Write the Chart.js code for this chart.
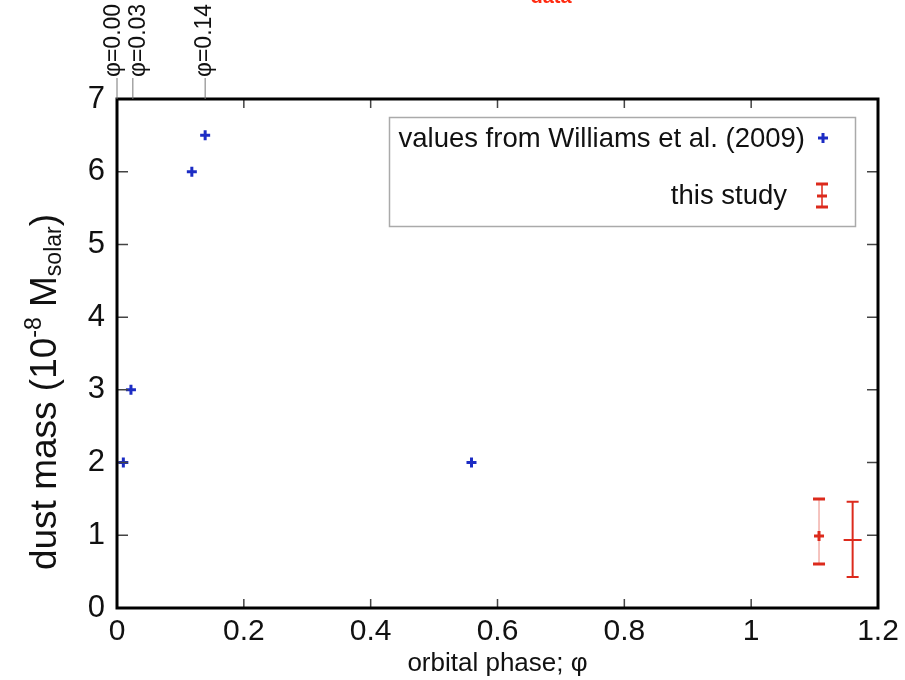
<!DOCTYPE html>
<html>
<head>
<meta charset="utf-8">
<script src="https://cdn.jsdelivr.net/npm/chart.js@4.4.0/dist/chart.umd.min.js"></script>
<style>
  html, body { margin: 0; padding: 0; background: #fff; }
  #wrap { width: 905px; height: 680px; }
</style>
</head>
<body>
<div id="wrap"><canvas id="dust-chart" width="905" height="680"></canvas></div>
<script>
// values from Williams et al. (2009)
const williamsPhase = [0.01, 0.022, 0.118, 0.139, 0.559];
const williamsMass = [2, 3, 6, 6.5, 2];

// this study (with error bars)
const studyPhase = [1.107, 1.160];
const studyMass = [0.99, 0.935];
const studyLow = [0.605, 0.425];
const studyHigh = [1.50, 1.46];

// phase markers on top of the frame
const topPhases = [0.0, 0.025, 0.139];
const topLabels = ['φ=0.00', 'φ=0.03', 'φ=0.14'];

const xTicks = [0, 0.2, 0.4, 0.6, 0.8, 1, 1.2];
const yTicks = [0, 1, 2, 3, 4, 5, 6, 7];

const FONT = '"Liberation Sans", Arial, sans-serif';
const BLUE = '#1c2cc4';
const RED = '#dc2a1c';

function toPoints(xs, ys) {
    return xs.map((x, i) => ({ x: x, y: ys[i] }));
}

// frame, inward ticks, error bars, legend, top labels, y title
const extras = {
    id: 'extras',
    beforeDatasetsDraw(chart) {
        const ctx = chart.ctx;
        const x = chart.scales.x, y = chart.scales.y;
        ctx.save();
        // error bars
        studyPhase.forEach((p, i) => {
            const px = x.getPixelForValue(p);
            const top = y.getPixelForValue(studyHigh[i]);
            const bot = y.getPixelForValue(studyLow[i]);
            const mid = y.getPixelForValue(studyMass[i]);
            ctx.strokeStyle = i === 0 ? '#f2b0aa' : RED;
            ctx.lineWidth = i === 0 ? 1.5 : 2;
            ctx.beginPath();
            ctx.moveTo(px, top); ctx.lineTo(px, bot);
            ctx.stroke();
            ctx.strokeStyle = RED;
            ctx.lineWidth = i === 0 ? 3 : 2;
            ctx.beginPath();
            ctx.moveTo(px - 6, top); ctx.lineTo(px + 6, top);
            ctx.moveTo(px - 6, bot); ctx.lineTo(px + 6, bot);
            if (i === 1) { ctx.moveTo(px - 9, mid); ctx.lineTo(px + 9, mid); }
            ctx.stroke();
        });
        ctx.restore();
    },
    afterDraw(chart) {
        const ctx = chart.ctx;
        const x = chart.scales.x, y = chart.scales.y;
        const a = chart.chartArea;
        ctx.save();

        // inward ticks
        ctx.strokeStyle = '#444';
        ctx.lineWidth = 1.5;
        ctx.beginPath();
        xTicks.slice(1, -1).forEach(v => {
            const px = x.getPixelForValue(v);
            ctx.moveTo(px, a.bottom); ctx.lineTo(px, a.bottom - 9);
            ctx.moveTo(px, a.top); ctx.lineTo(px, a.top + 9);
        });
        yTicks.slice(1, -1).forEach(v => {
            const py = y.getPixelForValue(v);
            ctx.moveTo(a.left, py); ctx.lineTo(a.left + 11, py);
            ctx.moveTo(a.right, py); ctx.lineTo(a.right - 11, py);
        });
        ctx.stroke();

        // frame
        ctx.strokeStyle = '#000';
        ctx.lineWidth = 3;
        ctx.strokeRect(a.left, a.top, a.right - a.left, a.bottom - a.top);

        // top phase markers
        ctx.strokeStyle = '#777';
        ctx.lineWidth = 1;
        ctx.fillStyle = '#111';
        ctx.font = '23px ' + FONT;
        const shift = [-3, 6, 0];
        topPhases.forEach((p, i) => {
            const px = x.getPixelForValue(p);
            ctx.beginPath();
            ctx.moveTo(px, 78); ctx.lineTo(px, a.top);
            ctx.stroke();
            ctx.save();
            ctx.translate(px + shift[i], 77);
            ctx.rotate(-Math.PI / 2);
            ctx.textAlign = 'left';
            ctx.textBaseline = 'middle';
            ctx.fillText(topLabels[i], 0, 0);
            ctx.restore();
        });

        // legend
        ctx.strokeStyle = '#aaa';
        ctx.lineWidth = 1.5;
        ctx.strokeRect(389.5, 117.5, 466, 109);
        ctx.fillStyle = '#111';
        ctx.font = '27.5px ' + FONT;
        ctx.textAlign = 'right';
        ctx.textBaseline = 'middle';
        ctx.fillText('values from Williams et al. (2009)', 805, 139);
        ctx.fillText('this study', 787, 196);
        ctx.strokeStyle = BLUE;
        ctx.lineWidth = 3;
        ctx.beginPath();
        ctx.moveTo(818, 138); ctx.lineTo(828, 138);
        ctx.moveTo(823, 133); ctx.lineTo(823, 143);
        ctx.stroke();
        ctx.strokeStyle = RED;
        ctx.lineWidth = 1.5;
        ctx.beginPath();
        ctx.moveTo(822, 184); ctx.lineTo(822, 207);
        ctx.stroke();
        ctx.lineWidth = 3;
        ctx.beginPath();
        ctx.moveTo(816, 184); ctx.lineTo(828, 184);
        ctx.moveTo(816, 207); ctx.lineTo(828, 207);
        ctx.moveTo(817, 196); ctx.lineTo(827, 196);
        ctx.stroke();

        // y axis title with super/subscript
        ctx.save();
        ctx.translate(56, 392);
        ctx.rotate(-Math.PI / 2);
        ctx.fillStyle = '#111';
        ctx.textAlign = 'left';
        ctx.textBaseline = 'alphabetic';
        const big = '37px ' + FONT, small = '23px ' + FONT;
        const parts = [
            ['dust mass (10', big, 0],
            ['-8', small, -15],
            [' M', big, 0],
            ['solar', small, 5],
            [')', big, 0]
        ];
        let total = 0;
        parts.forEach(pt => { ctx.font = pt[1]; total += ctx.measureText(pt[0]).width; });
        let cx = -total / 2;
        parts.forEach(pt => {
            ctx.font = pt[1];
            ctx.fillText(pt[0], cx, pt[2]);
            cx += ctx.measureText(pt[0]).width;
        });
        ctx.restore();

        // clipped red caption at the very top
        ctx.fillStyle = '#ff2a10';
        ctx.font = 'bold 20px ' + FONT;
        ctx.textAlign = 'center';
        ctx.textBaseline = 'alphabetic';
        ctx.fillText('data', 551, 3);

        ctx.restore();
    }
};

new Chart(document.querySelector('#dust-chart').getContext('2d'), {
    type: 'scatter',
    data: {
        datasets: [{
            label: 'values from Williams et al. (2009)',
            data: toPoints(williamsPhase, williamsMass),
            pointStyle: 'cross',
            pointRadius: 5,
            borderWidth: 3,
            borderColor: BLUE,
            backgroundColor: BLUE
        }, {
            label: 'this study',
            data: toPoints(studyPhase, studyMass),
            pointStyle: 'cross',
            pointRadius: [5, 0],
            borderWidth: 3,
            borderColor: RED,
            backgroundColor: RED
        }]
    },
    options: {
        responsive: false,
        animation: false,
        events: [],
        layout: { padding: { left: 0, top: 99, right: 27, bottom: 0 } },
        plugins: {
            legend: { display: false },
            tooltip: { enabled: false }
        },
        scales: {
            x: {
                type: 'linear',
                min: 0,
                max: 1.2,
                afterFit: s => { s.height = 72; },
                afterBuildTicks: s => { s.ticks = xTicks.map(v => ({ value: v })); },
                grid: { display: false, drawTicks: false },
                border: { display: false },
                ticks: {
                    color: '#111',
                    font: { family: FONT, size: 30 },
                    padding: 6,
                    maxRotation: 0,
                    callback: v => String(Number(v.toFixed(1)))
                },
                title: {
                    display: true,
                    text: 'orbital phase; φ',
                    color: '#111',
                    font: { family: FONT, size: 26 },
                    padding: { top: 0, bottom: 1 }
                }
            },
            y: {
                type: 'linear',
                min: 0,
                max: 7,
                afterFit: s => { s.width = 117; },
                afterBuildTicks: s => { s.ticks = yTicks.map(v => ({ value: v })); },
                grid: { display: false, drawTicks: false },
                border: { display: false },
                ticks: {
                    color: '#111',
                    font: { family: FONT, size: 31 },
                    padding: 12
                }
            }
        }
    },
    plugins: [extras]
});
</script>
</body>
</html>
